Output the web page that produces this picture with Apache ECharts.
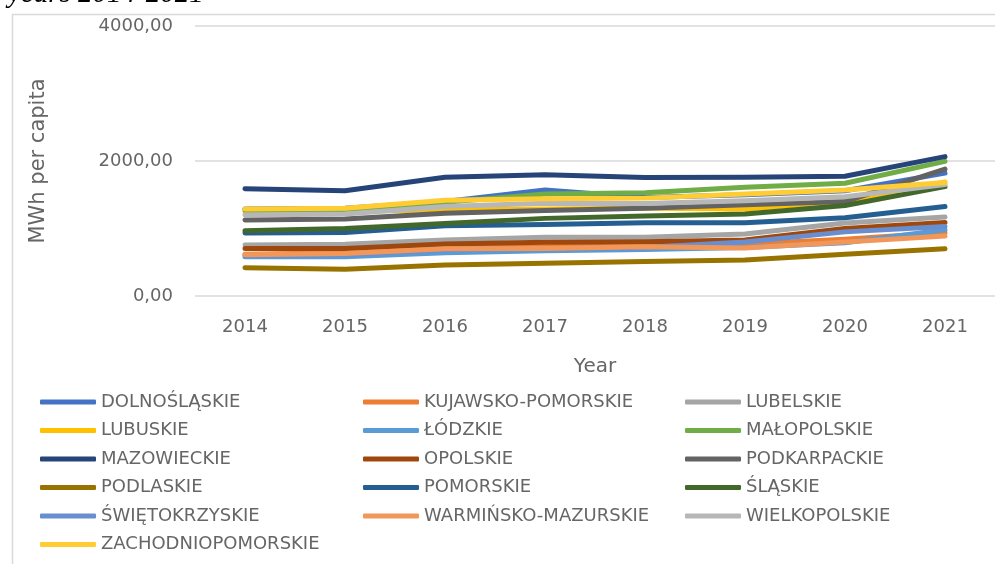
<!DOCTYPE html>
<html>
<head>
<meta charset="utf-8">
<script src="https://cdn.jsdelivr.net/npm/echarts@6/dist/echarts.min.js"></script>
<style>
  html, body { margin: 0; padding: 0; background: #fff; }
  #chart { width: 995px; height: 564px; }
</style>
</head>
<body>
<div id="chart"></div>
<script>
// lata na osi X
var years = ['2014', '2015', '2016', '2017', '2018', '2019', '2020', '2021']

// wartosci (MWh per capita)
var dolnoslaskie = [1290, 1300, 1400, 1570, 1460, 1500, 1560, 1820]
var kujawskoPomorskie = [620, 640, 720, 730, 750, 770, 840, 940]
var lubelskie = [755, 765, 830, 870, 870, 920, 1080, 1170]
var lubuskie = [1250, 1255, 1275, 1290, 1300, 1290, 1400, 1690]
var lodzkie = [580, 580, 640, 670, 690, 720, 790, 980]
var malopolskie = [1270, 1280, 1390, 1510, 1530, 1610, 1670, 1995]
var mazowieckie = [1590, 1560, 1760, 1795, 1755, 1760, 1775, 2065]
var opolskie = [705, 705, 770, 795, 805, 830, 1000, 1090]
var podkarpackie = [1125, 1140, 1225, 1265, 1300, 1350, 1400, 1880]
var podlaskie = [420, 395, 460, 485, 510, 535, 620, 700]
var pomorskie = [935, 940, 1040, 1060, 1085, 1085, 1160, 1325]
var slaskie = [965, 1000, 1075, 1150, 1185, 1215, 1340, 1620]
var swietokrzyskie = [600, 610, 690, 700, 720, 800, 950, 1030]
var warminskoMazurskie = [610, 630, 700, 705, 730, 710, 800, 890]
var wielkopolskie = [1200, 1215, 1325, 1375, 1370, 1410, 1470, 1650]
var zachodniopomorskie = [1290, 1300, 1420, 1440, 1450, 1510, 1570, 1680]

var names = ['DOLNOŚLĄSKIE', 'KUJAWSKO-POMORSKIE', 'LUBELSKIE', 'LUBUSKIE', 'ŁÓDZKIE', 'MAŁOPOLSKIE',
    'MAZOWIECKIE', 'OPOLSKIE', 'PODKARPACKIE', 'PODLASKIE', 'POMORSKIE', 'ŚLĄSKIE',
    'ŚWIĘTOKRZYSKIE', 'WARMIŃSKO-MAZURSKIE', 'WIELKOPOLSKIE', 'ZACHODNIOPOMORSKIE']
var values = [dolnoslaskie, kujawskoPomorskie, lubelskie, lubuskie, lodzkie, malopolskie,
    mazowieckie, opolskie, podkarpackie, podlaskie, pomorskie, slaskie,
    swietokrzyskie, warminskoMazurskie, wielkopolskie, zachodniopomorskie]
var colors = ['#4472C4', '#ED7D31', '#A5A5A5', '#FFC000', '#5B9BD5', '#70AD47',
    '#264478', '#9E480E', '#636363', '#997300', '#255E91', '#43682B',
    '#698ED0', '#F1975A', '#B7B7B7', '#FFCD33']

var font = '"DejaVu Sans", sans-serif'
var textColor = '#666666'

var series = names.map(function (n, i) {
    return {
        name: n,
        type: 'line',
        data: values[i],
        symbol: 'none',
        smooth: false,
        color: colors[i],
        lineStyle: { width: 5, cap: 'round', join: 'round', color: colors[i] }
    }
})

// legenda w trzech kolumnach
function legendCol(left, data) {
    return {
        orient: 'vertical',
        left: left,
        top: 388,
        data: data,
        icon: 'roundRect',
        itemWidth: 56,
        itemHeight: 5,
        itemGap: 10.5,
        textStyle: { fontFamily: font, fontSize: 18, color: textColor }
    }
}

var mychart = echarts.init(document.getElementById('chart'))
var option = {
    animation: false,
    backgroundColor: '#fff',
    graphic: [
        {
            type: 'rect', left: 10, top: 12, silent: true,
            shape: { width: 1000, height: 600 },
            style: { fill: 'none', stroke: '#D9D9D9', lineWidth: 1.5 }
        },
        {
            type: 'text', left: 8, top: -20,
            style: { text: 'years 2014-2021', font: 'italic 29px "Liberation Serif", serif', fill: '#000' }
        }
    ],
    grid: { left: 195, right: -3, top: 26, bottom: 268 },
    legend: [
        legendCol(35, [names[0], names[3], names[6], names[9], names[12], names[15]]),
        legendCol(358, [names[1], names[4], names[7], names[10], names[13]]),
        legendCol(680, [names[2], names[5], names[8], names[11], names[14]])
    ],
    xAxis: {
        type: 'category',
        data: years,
        name: 'Year',
        nameLocation: 'middle',
        nameGap: 61,
        nameTextStyle: { fontFamily: font, fontSize: 20, color: textColor },
        axisLine: { show: false },
        axisTick: { show: false },
        axisLabel: { margin: 22, fontFamily: font, fontSize: 18, color: textColor }
    },
    yAxis: {
        type: 'value',
        min: 0,
        max: 4000,
        interval: 2000,
        name: 'MWh per capita',
        nameLocation: 'middle',
        nameGap: 146,
        nameTextStyle: { fontFamily: font, fontSize: 21, color: textColor },
        axisLabel: {
            margin: 22, fontFamily: font, fontSize: 18, color: textColor,
            formatter: function (v) { return v.toFixed(2).replace('.', ',') }
        },
        splitLine: { lineStyle: { color: '#D9D9D9', width: 1.5 } }
    },
    series: series
}
mychart.setOption(option)
</script>
</body>
</html>
